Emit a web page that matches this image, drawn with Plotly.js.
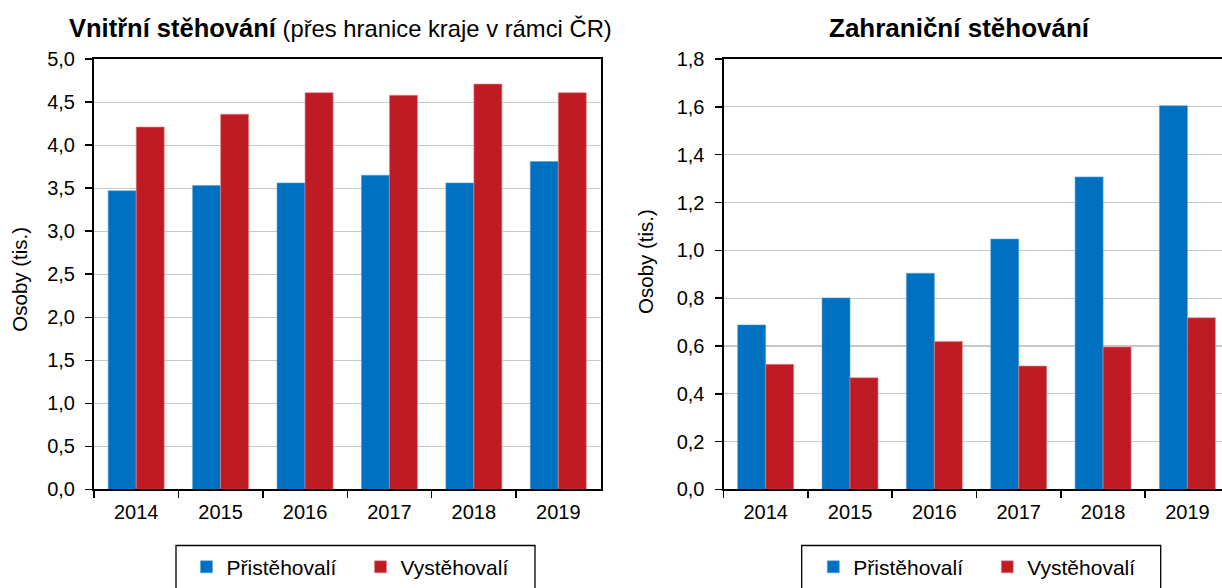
<!DOCTYPE html>
<html>
<head>
<meta charset="utf-8">
<script src="https://cdn.plot.ly/plotly-3.0.1.min.js"></script>
<style>html,body{margin:0;padding:0;background:#fff}#chart{width:1222px;height:588px}</style>
</head>
<body>
<div id="chart"></div>
<script>
// ---- data ----
const years = ['2014', '2015', '2016', '2017', '2018', '2019'];
const seriesNames = ['Přistěhovalí', 'Vystěhovalí'];
// Vnitřní stěhování (tis. osob)
const internalIn  = [3.47, 3.53, 3.56, 3.65, 3.56, 3.81];
const internalOut = [4.21, 4.36, 4.61, 4.58, 4.71, 4.61];
// Zahraniční stěhování (tis. osob)
const foreignIn  = [0.688, 0.801, 0.904, 1.047, 1.307, 1.605];
const foreignOut = [0.523, 0.467, 0.619, 0.516, 0.596, 0.718];
const leftTicks  = [0, 0.5, 1, 1.5, 2, 2.5, 3, 3.5, 4, 4.5, 5];
const rightTicks = [0, 0.2, 0.4, 0.6, 0.8, 1, 1.2, 1.4, 1.6, 1.8];

// ---- style ----
const W = 1222, H = 588;
const FONT = 'Liberation Sans, Arial, sans-serif';
const BLUE = '#0070C0', RED = '#BE1B24';
const px = v => v / W, py = v => (H - v) / H;

const traces = [
  {type:'bar', x: years, y: internalIn, name: seriesNames[0], xaxis:'x', yaxis:'y', legend:'legend',
   marker:{color:BLUE, line:{color:'#5aa0d8', width:0.6}}, hoverinfo:'y'},
  {type:'bar', x: years, y: internalOut, name: seriesNames[1], xaxis:'x', yaxis:'y', legend:'legend',
   marker:{color:RED, line:{color:'#e08a90', width:0.6}}, hoverinfo:'y'},
  {type:'bar', x: years, y: foreignIn, name: seriesNames[0], xaxis:'x2', yaxis:'y2', legend:'legend2',
   marker:{color:BLUE, line:{color:'#5aa0d8', width:0.6}}, hoverinfo:'y'},
  {type:'bar', x: years, y: foreignOut, name: seriesNames[1], xaxis:'x2', yaxis:'y2', legend:'legend2',
   marker:{color:RED, line:{color:'#e08a90', width:0.6}}, hoverinfo:'y'}
];

const xCommon = {
  type:'category', showline:true, linecolor:'#000', linewidth:2,
  ticks:'outside', tickson:'boundaries', ticklen:7, tickwidth:1.5, tickcolor:'#000',
  showgrid:false, zeroline:false, automargin:false, fixedrange:true,
  ticklabelstandoff:4,
  tickfont:{family:FONT, size:20, color:'#000'}
};
const yCommon = {
  showline:true, linecolor:'#000', linewidth:2,
  ticks:'outside', ticklen:7, tickwidth:1.5, tickcolor:'#000',
  showgrid:true, gridcolor:'#c8c8c8', gridwidth:1.2, zeroline:false,
  automargin:false, fixedrange:true, tickformat:'.1f', tickmode:'array',
  ticklabelstandoff:6,
  tickfont:{family:FONT, size:20, color:'#000'}
};

const layout = {
  width: W, height: H,
  margin:{l:0, r:0, t:0, b:0},
  paper_bgcolor:'#fff', plot_bgcolor:'#fff',
  separators:', ',
  font:{family:FONT, size:20, color:'#000'},
  barmode:'group', bargap:0.336, bargroupgap:0,
  xaxis: Object.assign({}, xCommon, {domain:[px(94), px(600.5)], mirror:true, anchor:'y'}),
  yaxis: Object.assign({}, yCommon, {domain:[py(497), py(60)], range:[0, 5], tickvals:leftTicks, mirror:true, anchor:'x'}),
  xaxis2: Object.assign({}, xCommon, {domain:[px(723.5), 1], range:[-0.5, 5.41], mirror:true, anchor:'y2'}),
  yaxis2: Object.assign({}, yCommon, {domain:[py(497), py(60)], range:[0, 1.8], tickvals:rightTicks, mirror:false, anchor:'x2'}),
  legend: {orientation:'h', x:px(186.5), xanchor:'left', y:py(576), yanchor:'middle',
           entrywidth:129, entrywidthmode:'pixels', borderwidth:0, bgcolor:'rgba(0,0,0,0)',
           font:{family:FONT, size:21, color:'#000'}},
  legend2: {orientation:'h', x:px(813.3), xanchor:'left', y:py(576), yanchor:'middle',
           entrywidth:129, entrywidthmode:'pixels', borderwidth:0, bgcolor:'rgba(0,0,0,0)',
           font:{family:FONT, size:21, color:'#000'}},
  shapes: [
    {type:'rect', xref:'paper', yref:'paper', x0:px(176), x1:px(535), y0:py(554), y1:py(620),
     line:{color:'#000', width:1.3}, fillcolor:'rgba(0,0,0,0)'},
    {type:'rect', xref:'paper', yref:'paper', x0:px(801.7), x1:px(1160.7), y0:py(554), y1:py(620),
     line:{color:'#000', width:1.3}, fillcolor:'rgba(0,0,0,0)'}
  ],
  annotations: [
    {xref:'paper', yref:'paper', x:px(340), y:py(28), xanchor:'center', yanchor:'middle', showarrow:false,
     text:'<b><span style="font-size:25.5px">Vnitřní stěhování</span></b> (přes hranice kraje v rámci ČR)',
     font:{family:FONT, size:23.8, color:'#000'}},
    {xref:'paper', yref:'paper', x:px(960), y:py(28), xanchor:'center', yanchor:'middle', showarrow:false,
     text:'<b>Zahraniční stěhování</b>', font:{family:FONT, size:26, color:'#000'}},
    {xref:'paper', yref:'paper', x:px(20), y:py(284), xanchor:'center', yanchor:'middle', showarrow:false,
     textangle:-90, text:'Osoby (tis.)', font:{family:FONT, size:20.5, color:'#000'}},
    {xref:'paper', yref:'paper', x:px(646), y:py(266), xanchor:'center', yanchor:'middle', showarrow:false,
     textangle:-90, text:'Osoby (tis.)', font:{family:FONT, size:20.5, color:'#000'}}
  ],
  showlegend:true
};

Plotly.newPlot('chart', traces, layout, {staticPlot:true, displayModeBar:false});
</script>
</body>
</html>
